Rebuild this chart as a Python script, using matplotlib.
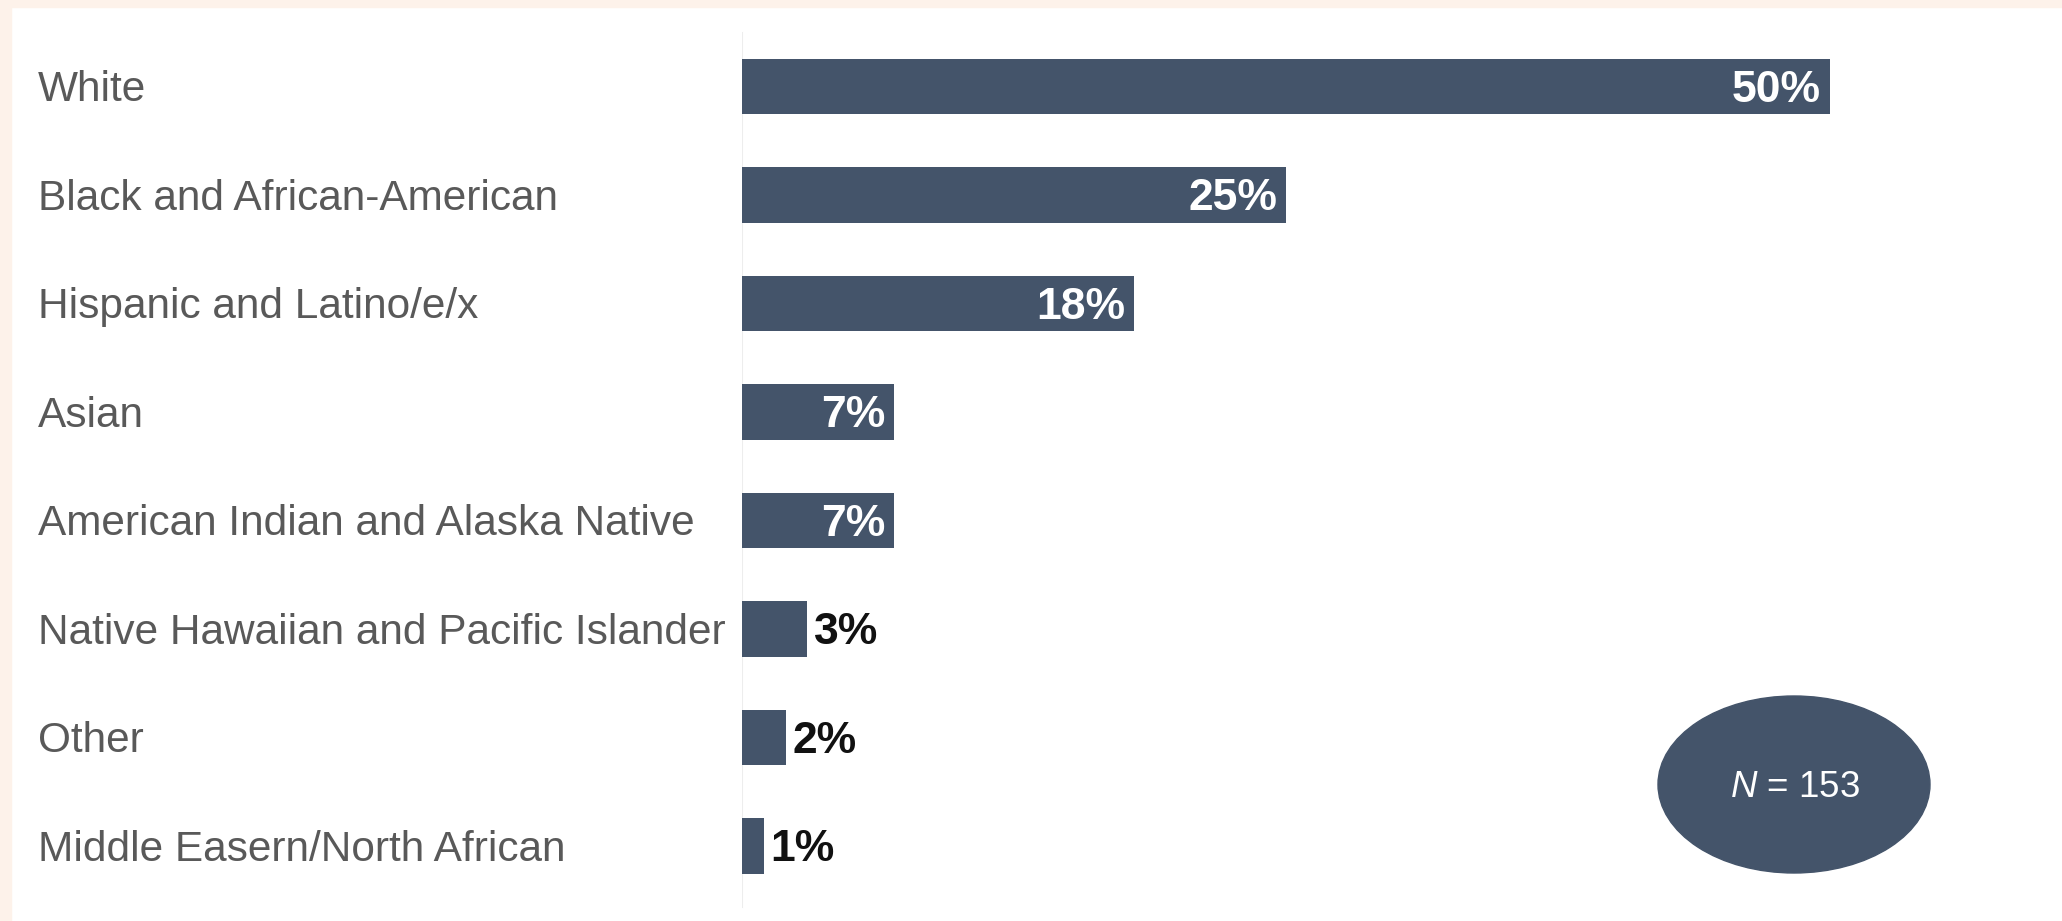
import matplotlib.pyplot as plt
from matplotlib.patches import Ellipse, Rectangle
from matplotlib.transforms import blended_transform_factory

# Race / ethnicity of respondents (%)
groups = ["White", "Black and African-American", "Hispanic and Latino/e/x", "Asian",
          "American Indian and Alaska Native", "Native Hawaiian and Pacific Islander",
          "Other", "Middle Easern/North African"]
pct = [50, 25, 18, 7, 7, 3, 2, 1]
n_total = 153

bar_col = "#44546A"
plt.rcParams['mathtext.fontset'] = 'custom'
plt.rcParams['mathtext.rm'] = 'Liberation Sans'
plt.rcParams['mathtext.it'] = 'Liberation Sans:italic'

fig = plt.figure(figsize=(20.62, 9.21), dpi=100)
fig.patch.set_facecolor("white")

# peach frame along top and left
fig.patches.append(Rectangle((0, 1 - 7 / 921), 1, 7 / 921, transform=fig.transFigure,
                             color="#FDF2EA", zorder=0))
fig.patches.append(Rectangle((0, 0), 11 / 2062, 1, transform=fig.transFigure,
                             color="#FDF2EA", zorder=0))

ax = fig.add_axes([742 / 2062, 0, 1 - 742 / 2062, 1])
ax.patch.set_alpha(0)
y = list(range(len(groups)))
ax.barh(y, pct, height=0.507, color=bar_col, zorder=2)
ax.set_xlim(0, (2062 - 742) / 21.76)
ax.set_ylim((921 - 86.5) / 108.5, -86.5 / 108.5)
ax.axis("off")
ax.axvline(0, ymin=0.015, ymax=0.964, color="#EDEDED", lw=1.5, zorder=1)

dy = 0.035  # nudge text down a touch so it sits on the bar centre
lab_tr = blended_transform_factory(fig.transFigure, ax.transData)
for i, g in enumerate(groups):
    ax.text(38 / 2062, i + dy, g, transform=lab_tr, ha="left", va="center",
            fontsize=30.5, color="#595959", family=["Liberation Sans", "DejaVu Sans"])

pct_font = ["Liberation Sans Narrow", "Liberation Sans", "DejaVu Sans"]
for i, v in enumerate(pct):
    if v >= 7:
        ax.text(v - 0.41, i + dy, f"{v}%", ha="right", va="center", color="white",
                fontsize=32, fontweight="bold", family=pct_font, zorder=3)
    else:
        ax.text(v + 0.3, i + dy, f"{v}%", ha="left", va="center", color="#111111",
                fontsize=32, fontweight="bold", family=pct_font, zorder=3)

ell = Ellipse((1794 / 2062, 1 - 784.5 / 921), 272 / 2062, 177 / 921,
              transform=fig.transFigure, color=bar_col, zorder=4)
fig.patches.append(ell)
fig.text(1795 / 2062, 1 - 787 / 921, r"$\mathit{N}$ = " + str(n_total),
         ha="center", va="center", color="white", fontsize=26.5,
         family="Liberation Sans", zorder=5)

fig.savefig("out.png", dpi=100)
